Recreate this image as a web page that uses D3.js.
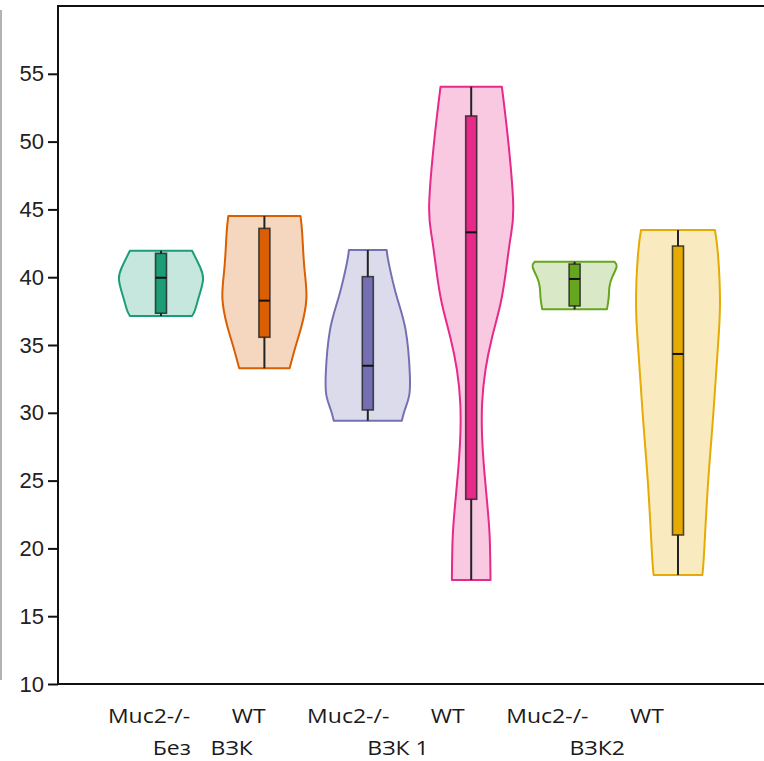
<!DOCTYPE html>
<html>
<head>
<meta charset="utf-8">
<script src="https://cdnjs.cloudflare.com/ajax/libs/d3/7.8.5/d3.min.js"></script>
<style>
  html, body { margin: 0; padding: 0; background: #fff; }
  svg { display: block; }
</style>
</head>
<body>
<script>
const w = 764;
const h = 761;

// categories, left to right
const categories = ["Muc2-/- Без ВЗК", "WT Без ВЗК", "Muc2-/- ВЗК 1", "WT ВЗК 1", "Muc2-/- ВЗК2", "WT ВЗК2"];
const genotypes = ["Muc2-/-", "WT", "Muc2-/-", "WT", "Muc2-/-", "WT"];
const groups = ["Без ВЗК", "ВЗК 1", "ВЗК2"];
const colors = ["#1b9e77", "#d95f02", "#7570b3", "#e7298a", "#66a61e", "#e6ab02"];
const yTicks = [10, 15, 20, 25, 30, 35, 40, 45, 50, 55];

// violin outlines: value and relative half-width
const profileValues = [
  [41.95, 40.75, 39.79, 38.54, 37.58, 37.14],
  [44.51, 43.24, 40.75, 38.44, 36.35, 34.87, 33.28],
  [42.0, 41.02, 38.56, 36.11, 32.91, 31.19, 30.21, 29.42],
  [54.05, 50.36, 45.45, 42.99, 40.53, 38.08, 35.61, 33.16, 30.7, 28.24, 25.78, 23.35, 20.86, 17.67],
  [41.14, 40.77, 40.04, 39.3, 38.44, 37.63],
  [43.48, 41.76, 38.07, 34.39, 29.47, 24.55, 19.64, 18.04]
];
const profileWidths = [
  [0.74, 0.93, 1.0, 0.9, 0.81, 0.74],
  [0.86, 0.9, 0.95, 1.0, 0.88, 0.74, 0.6],
  [0.45, 0.5, 0.69, 0.9, 1.0, 0.98, 0.88, 0.81],
  [0.73, 0.87, 1.0, 0.94, 0.83, 0.7, 0.5, 0.34, 0.26, 0.26, 0.31, 0.38, 0.44, 0.46],
  [0.95, 1.0, 0.9, 0.83, 0.81, 0.77],
  [0.88, 0.95, 1.0, 0.94, 0.83, 0.71, 0.62, 0.58]
];

// box plot stats
const whiskerHigh = [41.95, 44.51, 42.0, 54.05, 41.14, 43.48];
const q3 = [41.76, 43.6, 40.04, 51.89, 40.97, 42.3];
const median = [39.96, 38.27, 33.47, 43.31, 39.87, 34.34];
const q1 = [37.34, 35.57, 30.21, 23.62, 37.88, 20.99];
const whiskerLow = [37.14, 33.28, 29.42, 17.67, 37.63, 18.04];

const plotLeft = 58, plotTop = 6, plotBottom = 684;

const svg = d3.select("body").append("svg")
  .attr("width", w)
  .attr("height", h);

const yScale = d3.scaleLinear().domain([10, 60]).range([plotBottom, plotTop]);
const xScale = d3.scalePoint().domain(categories).range([161, 678]);
const labelX = d3.scalePoint().domain(categories).range([149, 647]);
const widthScale = d3.scaleLinear().domain([0, 1]).range([0, 42]);

// thin gray line at the left edge
svg.append("line")
  .attr("x1", 1).attr("x2", 1)
  .attr("y1", 10).attr("y2", 680)
  .attr("stroke", "#9a9a9a")
  .attr("stroke-width", 1.5);

// frame (top and bottom lines run off the right edge)
svg.append("rect")
  .attr("x", plotLeft).attr("y", plotTop)
  .attr("width", 800).attr("height", plotBottom - plotTop)
  .attr("fill", "none")
  .attr("stroke", "#111")
  .attr("stroke-width", 2);

// violins
categories.forEach((c, i) => {
  const cx = xScale(c);
  const pts = profileValues[i].map((v, j) => ({ v: v, wd: profileWidths[i][j] }));
  const area = d3.area()
    .y(d => yScale(d.v))
    .x0(d => cx - widthScale(d.wd))
    .x1(d => cx + widthScale(d.wd))
    .curve(d3.curveNatural);

  svg.append("path")
    .datum(pts)
    .attr("d", area)
    .attr("fill", colors[i])
    .attr("fill-opacity", 0.25)
    .attr("stroke", colors[i])
    .attr("stroke-width", 2)
    .attr("stroke-linejoin", "round");
});

// whiskers
svg.selectAll(".whisker")
  .data(categories)
  .enter()
  .append("line")
  .attr("class", "whisker")
  .attr("x1", d => xScale(d))
  .attr("x2", d => xScale(d))
  .attr("y1", (d, i) => yScale(whiskerHigh[i]))
  .attr("y2", (d, i) => yScale(whiskerLow[i]))
  .attr("stroke", "#222")
  .attr("stroke-width", 2);

// boxes
svg.selectAll(".box")
  .data(categories)
  .enter()
  .append("rect")
  .attr("class", "box")
  .attr("x", d => xScale(d) - 5.5)
  .attr("width", 11)
  .attr("y", (d, i) => yScale(q3[i]))
  .attr("height", (d, i) => yScale(q1[i]) - yScale(q3[i]))
  .attr("fill", (d, i) => colors[i])
  .attr("stroke", "#222")
  .attr("stroke-opacity", 0.8)
  .attr("stroke-width", 1.6);

// medians
svg.selectAll(".median")
  .data(categories)
  .enter()
  .append("line")
  .attr("class", "median")
  .attr("x1", d => xScale(d) - 5.5)
  .attr("x2", d => xScale(d) + 5.5)
  .attr("y1", (d, i) => yScale(median[i]))
  .attr("y2", (d, i) => yScale(median[i]))
  .attr("stroke", "#111")
  .attr("stroke-width", 2);

// y-axis
const yAxis = d3.axisLeft(yScale).tickValues(yTicks).tickSize(10).tickPadding(4).tickSizeOuter(0);
const yg = svg.append("g")
  .attr("transform", "translate(" + plotLeft + ",0)")
  .call(yAxis);
yg.select(".domain").remove();
yg.selectAll(".tick line").attr("stroke", "#111").attr("stroke-width", 2);
yg.selectAll(".tick text")
  .attr("fill", "#222")
  .style("font-family", "'Liberation Sans', Arial, sans-serif")
  .style("font-size", "22px");
svg.append("line")
  .attr("x1", plotLeft).attr("x2", plotLeft)
  .attr("y1", plotTop - 1).attr("y2", plotBottom + 1)
  .attr("stroke", "#111")
  .attr("stroke-width", 2);

// genotype labels
svg.selectAll(".geno")
  .data(categories)
  .enter()
  .append("g")
  .attr("class", "geno")
  .attr("transform", d => "translate(" + labelX(d) + ",723)")
  .append("text")
  .attr("transform", "scale(1.15,1)")
  .attr("text-anchor", "middle")
  .style("font-family", "'Open Sans', sans-serif")
  .style("font-size", "20px")
  .attr("fill", "#1a1a1a")
  .text((d, i) => genotypes[i]);

// group labels
svg.selectAll(".group")
  .data(groups)
  .enter()
  .append("g")
  .attr("class", "group")
  .attr("transform", (d, i) => {
    const x = (labelX(categories[2 * i]) + labelX(categories[2 * i + 1])) / 2;
    return "translate(" + (x + (i === 0 ? 4 : 0)) + ",755)";
  })
  .append("text")
  .attr("transform", "scale(1.15,1)")
  .attr("text-anchor", "middle")
  .style("font-family", "'Open Sans', sans-serif")
  .style("font-size", "20px")
  .style("word-spacing", (d, i) => (i === 0 ? "12px" : "0px"))
  .attr("fill", "#1a1a1a")
  .text(d => d);
</script>
</body>
</html>
